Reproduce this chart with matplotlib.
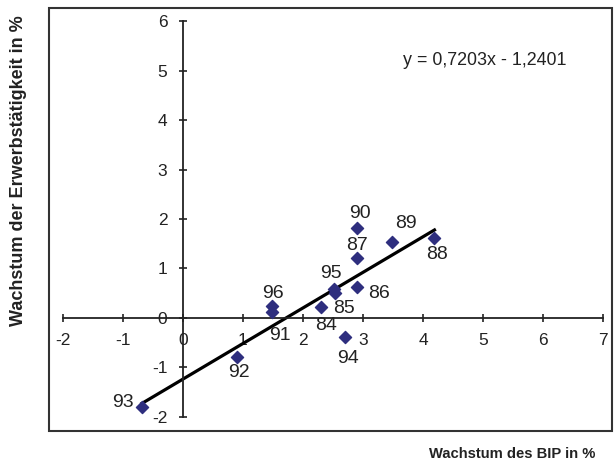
import matplotlib
matplotlib.use("Agg")
import matplotlib.pyplot as plt
from matplotlib.patches import Rectangle
import numpy as np

plt.rcParams['font.family'] = ['Liberation Sans', 'DejaVu Sans']
plt.rcParams['axes.unicode_minus'] = False

# Jahr, Wachstum BIP (%), Wachstum Erwerbstaetigkeit (%)
years = ["84", "85", "86", "87", "88", "89", "90", "91", "92", "93", "94", "95", "96"]
bip = [2.30, 2.54, 2.90, 2.90, 4.19, 3.49, 2.90, 1.48, 0.91, -0.68, 2.70, 2.52, 1.48]
erwerb = [0.23, 0.50, 0.63, 1.21, 1.61, 1.54, 1.81, 0.12, -0.79, -1.80, -0.39, 0.58, 0.25]

# Trendlinie (aus der Grafik)
slope = 0.7203
intercept = -1.2401

# label offsets in points (dx, dy)
offsets = {"84": (4, -14), "85": (6, -11), "86": (16, -5), "87": (0, 9),
           "88": (2, -12), "89": (10, 13), "90": (2, 11), "91": (6, -17),
           "92": (1, -11), "93": (-14, 3), "94": (2, -15), "95": (-2, 11),
           "96": (1, 9)}

fig = plt.figure(figsize=(6.16, 4.66), dpi=100)
ax = fig.add_axes([49 / 616, 1 - 431 / 466, 563 / 616, 423 / 466])
ax.set_xlim(-2.226, 7.145)
ax.set_ylim(-2.287, 6.266)

xs = np.array([min(bip), max(bip)])
ax.plot(xs, slope * xs + intercept, color="black", lw=2.3, zorder=2)
ax.scatter(bip, erwerb, marker="D", s=38, color="#2E2E7E", zorder=3)

for yr, x, y in zip(years, bip, erwerb):
    dx, dy = offsets[yr]
    ax.annotate(yr, (x, y), xytext=(dx, dy), textcoords="offset points",
                ha="center", va="center", fontsize=14, color="#222222")

# axes through the origin
for side in ["top", "right"]:
    ax.spines[side].set_visible(False)
ax.spines["left"].set_position(("data", 0))
ax.spines["bottom"].set_position(("data", 0))
ax.spines["left"].set_bounds(-2, 6)
ax.spines["bottom"].set_bounds(-2, 7)
for side in ["left", "bottom"]:
    ax.spines[side].set_linewidth(1.3)
    ax.spines[side].set_color("#222222")

ax.set_xticks(range(-2, 8))
ax.set_yticks(range(-2, 7))
ax.tick_params(axis="both", direction="inout", length=6, width=1.2,
               color="#222222", labelsize=12.5, labelcolor="#222222")
ax.tick_params(axis="x", pad=8)
ax.tick_params(axis="y", pad=8)

# plot area frame
ax.add_patch(Rectangle((0, 0), 1, 1, transform=ax.transAxes, fill=False,
                       edgecolor="#333333", lw=1.5, clip_on=False, zorder=5))

ax.text(0.629, 0.875, "y = 0,7203x - 1,2401", transform=ax.transAxes,
        fontsize=12.9, color="#222222", va="center", ha="left")

fig.text(512 / 616, 1 - 454 / 466, "Wachstum des BIP in %", ha="center",
         va="center", fontsize=10.6, fontweight="bold", color="#222222")
fig.text(19 / 616, 1 - 171 / 466, "Wachstum der Erwerbstätigkeit in %",
         ha="center", va="center", rotation=90, fontsize=13,
         fontweight="bold", color="#222222")

fig.savefig("out.png", dpi=100)
